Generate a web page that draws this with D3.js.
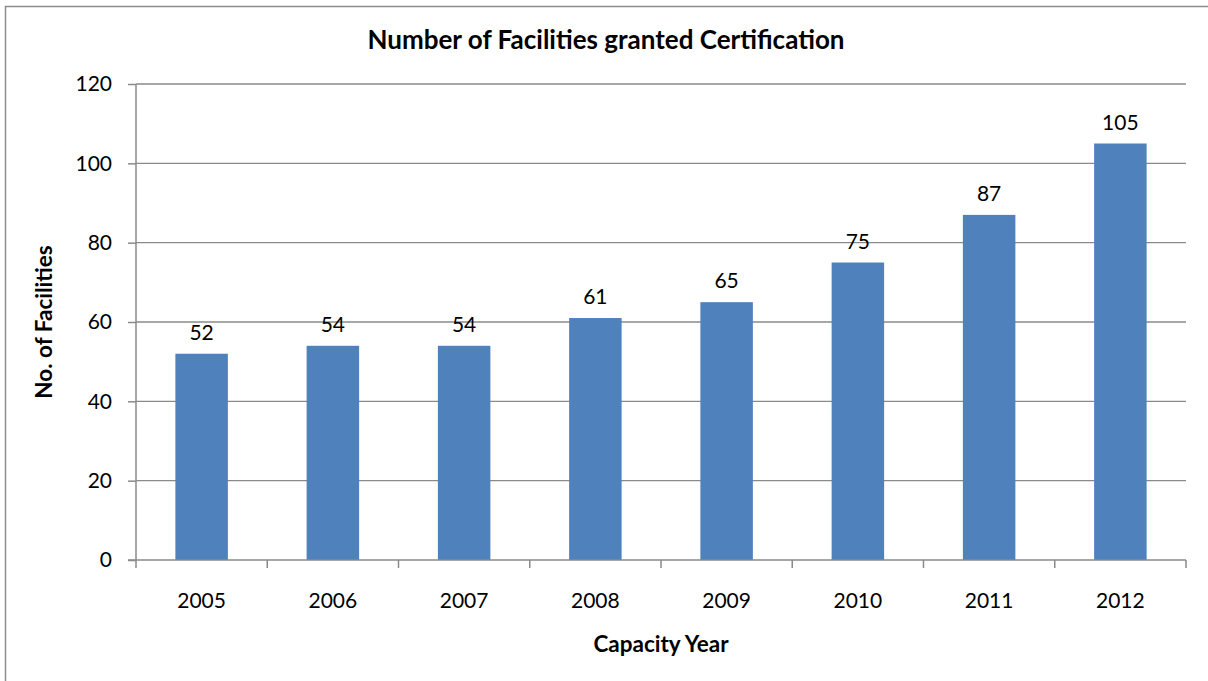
<!DOCTYPE html>
<html>
<head>
<meta charset="utf-8">
<script src="https://cdn.jsdelivr.net/npm/d3@7"></script>
<style>
  body { margin: 0; background: #fff; }
  text { font-family: Lato, "Open Sans", sans-serif; fill: #000; }
</style>
</head>
<body>
<div id="chart"></div>
<script>
const years = ["2005", "2006", "2007", "2008", "2009", "2010", "2011", "2012"];
const facilities = [52, 54, 54, 61, 65, 75, 87, 105];
const yTicks = [0, 20, 40, 60, 80, 100, 120];

const width = 1208, height = 681;
const margin = {left: 136, top: 84, right: 22, bottom: 121};
const plotW = width - margin.left - margin.right;
const plotH = height - margin.top - margin.bottom;

const svg = d3.select("#chart").append("svg")
  .attr("width", width)
  .attr("height", height);

// outer chart border (runs off right and bottom like the original)
svg.append("rect")
  .attr("x", 5.5).attr("y", 6.5)
  .attr("width", 1220).attr("height", 700)
  .attr("fill", "white")
  .attr("stroke", "#8c8c8c")
  .attr("stroke-width", 1.5);

const g = svg.append("g")
  .attr("transform", "translate(" + margin.left + "," + margin.top + ")");

const x = d3.scaleBand().domain(years).range([0, plotW]).paddingInner(0.6).paddingOuter(0.3);
const xOuter = d3.scaleBand().domain(years).range([0, plotW]);
const y = d3.scaleLinear().domain([0, 120]).range([plotH, 0]);

// gridlines
g.selectAll(".grid")
  .data(yTicks.filter(t => t > 0))
  .enter().append("line")
  .attr("x1", 0).attr("x2", plotW)
  .attr("y1", d => y(d)).attr("y2", d => y(d))
  .attr("stroke", "#8a8a8a")
  .attr("stroke-width", 1.3);

// bars
g.selectAll(".bar")
  .data(facilities)
  .enter().append("rect")
  .attr("x", (d, i) => x(years[i]))
  .attr("y", d => y(d))
  .attr("width", x.bandwidth())
  .attr("height", d => plotH - y(d))
  .attr("fill", "#4f81bd");

// value labels
g.selectAll(".label")
  .data(facilities)
  .enter().append("text")
  .attr("x", (d, i) => x(years[i]) + x.bandwidth() / 2)
  .attr("y", d => y(d) - 14)
  .attr("text-anchor", "middle")
  .style("font-size", "21px")
  .text(d => d);

// y axis
const yAxis = g.append("g")
  .call(d3.axisLeft(y).tickValues(yTicks).tickSize(8).tickPadding(16));
yAxis.selectAll("line, path").attr("stroke", "#8a8a8a").attr("stroke-width", 1.5);
yAxis.select(".domain").attr("d", "M0," + plotH + "V0");
yAxis.selectAll("text")
  .style("font-size", "21px")
  .style("font-family", "Lato, sans-serif")
  .attr("fill", "#000");

// x axis line and boundary ticks
const xAxisG = g.append("g").attr("transform", "translate(0," + plotH + ")");
xAxisG.append("line")
  .attr("x1", -8).attr("x2", plotW)
  .attr("stroke", "#8a8a8a").attr("stroke-width", 1.5);
const bounds = years.map(yr => xOuter(yr)).concat([plotW]);
xAxisG.selectAll(".xtick")
  .data(bounds)
  .enter().append("line")
  .attr("x1", d => d).attr("x2", d => d)
  .attr("y1", 0).attr("y2", 8)
  .attr("stroke", "#8a8a8a").attr("stroke-width", 1.5);
xAxisG.selectAll(".xlabel")
  .data(years)
  .enter().append("text")
  .attr("x", d => xOuter(d) + xOuter.bandwidth() / 2)
  .attr("y", 48)
  .attr("text-anchor", "middle")
  .style("font-size", "21px")
  .text(d => d);

// titles
svg.append("text")
  .attr("x", 606).attr("y", 49)
  .attr("text-anchor", "middle")
  .style("font-size", "26px")
  .style("font-weight", "bold")
  .text("Number of Facilities granted Certification");

svg.append("text")
  .attr("x", margin.left + plotW / 2).attr("y", 652)
  .attr("text-anchor", "middle")
  .style("font-size", "22.5px")
  .style("font-weight", "bold")
  .text("Capacity Year");

svg.append("text")
  .attr("transform", "translate(52," + (margin.top + plotH / 2) + ") rotate(-90)")
  .attr("text-anchor", "middle")
  .style("font-size", "22.5px")
  .style("font-weight", "bold")
  .text("No. of Facilities");
</script>
</body>
</html>
